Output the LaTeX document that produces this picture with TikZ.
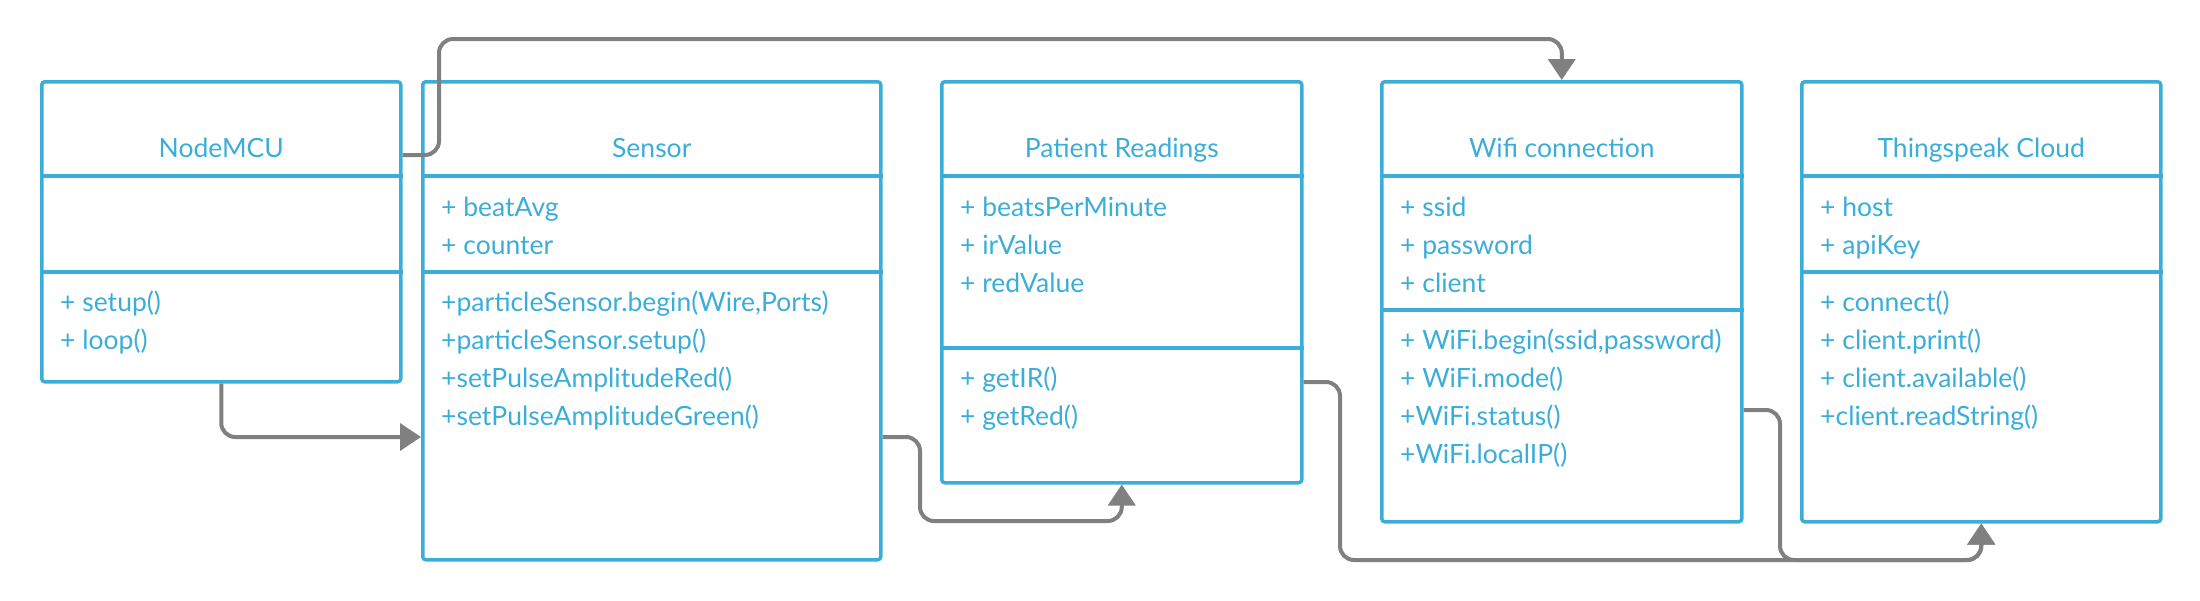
\documentclass[tikz,border=0pt]{standalone}
\usepackage{fontspec}
\setmainfont{Lato}
\usepackage{tikz}
\usetikzlibrary{arrows.meta,calc,positioning}

\definecolor{umlblue}{HTML}{3AADD9}
\definecolor{linkgray}{HTML}{808080}

\tikzset{
  classbox/.style={draw=umlblue, line width=3.5pt, rounded corners=3pt, anchor=north west, inner sep=0pt},
  divider/.style={draw=umlblue, line width=3.5pt},
  title/.style={text=umlblue, anchor=base, inner sep=0pt, font=\fontsize{26.5}{30}\selectfont},
  item/.style={text=umlblue, anchor=base west, inner sep=0pt, font=\fontsize{26.5}{30}\selectfont},
  link/.style={draw=linkgray, line width=4pt, rounded corners=14pt, -{Triangle[length=21pt,width=27pt]}}
}

\begin{document}
\begin{tikzpicture}[x=1pt, y=-1pt]
\useasboundingbox (0,0) rectangle (2200,600);

% class boxes
\node[classbox, minimum width=359pt, minimum height=300pt] (nodemcu) at (40,80) {};
\node[classbox, minimum width=458pt, minimum height=478pt] (sensor) at (421,80) {};
\node[classbox, minimum width=360pt, minimum height=401pt] (patient) at (940,80) {};
\node[classbox, minimum width=360pt, minimum height=440pt] (wifi) at (1380,80) {};
\node[classbox, minimum width=359pt, minimum height=440pt] (thing) at (1800,80) {};

% compartments
\draw[divider] (nodemcu.west |- 0,176) -- (nodemcu.east |- 0,176);
\draw[divider] (nodemcu.west |- 0,272) -- (nodemcu.east |- 0,272);
\draw[divider] (sensor.west |- 0,176) -- (sensor.east |- 0,176);
\draw[divider] (sensor.west |- 0,272) -- (sensor.east |- 0,272);
\draw[divider] (patient.west |- 0,176) -- (patient.east |- 0,176);
\draw[divider] (patient.west |- 0,348) -- (patient.east |- 0,348);
\draw[divider] (wifi.west |- 0,176) -- (wifi.east |- 0,176);
\draw[divider] (wifi.west |- 0,310) -- (wifi.east |- 0,310);
\draw[divider] (thing.west |- 0,176) -- (thing.east |- 0,176);
\draw[divider] (thing.west |- 0,272) -- (thing.east |- 0,272);

% titles
\node[title] (nodemcuT) at (nodemcu.north |- 0,157) {NodeMCU};
\node[title] (sensorT) at (sensor.north |- 0,157) {Sensor};
\node[title] (patientT) at (patient.north |- 0,157) {Patient Readings};
\node[title] (wifiT) at (wifi.north |- 0,157) {Wifi connection};
\node[title] (thingT) at (thing.north |- 0,157) {Thingspeak Cloud};

% members
\node[item] (nodemcuM1) at (60,311) {+ setup()};
\node[item] (nodemcuM2) at (60,349) {+ loop()};

\node[item] (sensorA1) at (441,216) {+ beatAvg};
\node[item] (sensorA2) at (441,254) {+ counter};
\node[item] (sensorM1) at (441,311) {+particleSensor.begin(Wire,Ports)};
\node[item] (sensorM2) at (441,349) {+particleSensor.setup()};
\node[item] (sensorM3) at (441,387) {+setPulseAmplitudeRed()};
\node[item] (sensorM4) at (441,425) {+setPulseAmplitudeGreen()};

\node[item] (patientA1) at (960,216) {+ beatsPerMinute};
\node[item] (patientA2) at (960,254) {+ irValue};
\node[item] (patientA3) at (960,292) {+ redValue};
\node[item] (patientM1) at (960,387) {+ getIR()};
\node[item] (patientM2) at (960,425) {+ getRed()};

\node[item] (wifiA1) at (1400,216) {+ ssid};
\node[item] (wifiA2) at (1400,254) {+ password};
\node[item] (wifiA3) at (1400,292) {+ client};
\node[item] (wifiM1) at (1400,349) {+ WiFi.begin(ssid,password)};
\node[item] (wifiM2) at (1400,387) {+ WiFi.mode()};
\node[item] (wifiM3) at (1400,425) {+WiFi.status()};
\node[item] (wifiM4) at (1400,463) {+WiFi.localIP()};

\node[item] (thingA1) at (1820,216) {+ host};
\node[item] (thingA2) at (1820,254) {+ apiKey};
\node[item] (thingM1) at (1820,311) {+ connect()};
\node[item] (thingM2) at (1820,349) {+ client.print()};
\node[item] (thingM3) at (1820,387) {+ client.available()};
\node[item] (thingM4) at (1820,425) {+client.readString()};

% links
\draw[link] (nodemcu.south) |- (sensor.west |- 0,437);
\draw[link] (nodemcu.east |- 0,155) -| (439,39) -| (wifi.north);
\draw[link] (sensor.east |- 0,437) -| (920,521) -| (patient.south);
\draw[link] (patient.east |- 0,382) -| (1340,560) -| (thing.south);
\draw[link] (wifi.east |- 0,410) -| (1780,560) -| (thing.south);
\end{tikzpicture}
\end{document}
